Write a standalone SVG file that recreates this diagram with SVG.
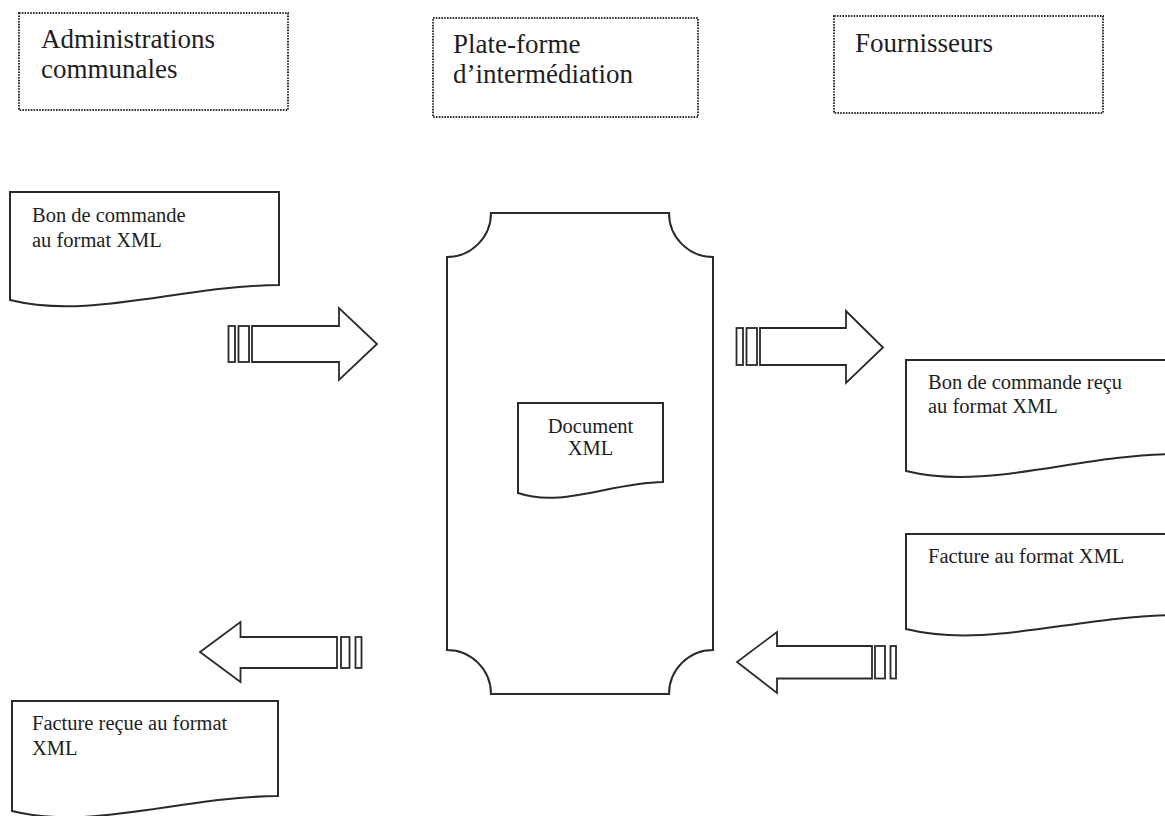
<svg xmlns="http://www.w3.org/2000/svg" width="1165" height="816" viewBox="0 0 1165 816">
<style>
.hdr{fill:none;stroke:#333;stroke-width:2;stroke-dasharray:1.6 1.2}
.shape{fill:#fff;stroke:#2a2a2a;stroke-width:2;stroke-linejoin:miter}
.ht{font-size:27px;fill:#1e1e1e}
.dt{font-size:20.5px;fill:#1e1e1e}
.arr{fill:#fff;stroke:#2a2a2a;stroke-width:1.8;stroke-linejoin:miter}
</style>
<rect width="1165" height="816" fill="#fff"/>
<g font-family="'Liberation Serif', Tinos, 'Times New Roman', 'DejaVu Serif', serif">
<g id="admin">
<rect class="hdr" x="19" y="13" width="269" height="97"/>
<text class="ht" x="41" y="48">Administrations</text>
<text class="ht" x="41" y="78">communales</text>
</g>
<g id="plateforme">
<rect class="hdr" x="433" y="18" width="265" height="99"/>
<text class="ht" x="453" y="53">Plate-forme</text>
<text class="ht" x="453" y="83">d’intermédiation</text>
</g>
<g id="fournisseurs">
<rect class="hdr" x="834" y="16" width="269" height="97"/>
<text class="ht" x="855" y="52">Fournisseurs</text>
</g>
<g id="platform-body">
<path class="shape" d="M491,213 H669 A44,44 0 0 0 713,257 V650 A44,44 0 0 0 669,694 H491 A44,44 0 0 0 447,650 V257 A44,44 0 0 0 491,213 Z"/>
</g>
<g id="doc-bon-commande">
<path class="shape" d="M10,192 H279 V285 C179.5,286 90.7,320 10,300 Z"/>
<text class="dt" x="32" y="222">Bon de commande</text>
<text class="dt" x="32" y="247">au format XML</text>
</g>
<g id="doc-xml">
<path class="shape" d="M518,403 H663 V482 C609,483 561.5,508 518,493 Z"/>
<text class="dt" x="590.5" y="433" text-anchor="middle">Document</text>
<text class="dt" x="590.5" y="455" text-anchor="middle">XML</text>
</g>
<g id="doc-bon-recu">
<path class="shape" d="M906,360 H1175 V454 C1075.5,455 986.7,491 906,471 Z"/>
<text class="dt" x="928" y="389">Bon de commande reçu</text>
<text class="dt" x="928" y="413">au format XML</text>
</g>
<g id="doc-facture">
<path class="shape" d="M906,534 H1175 V615 C1075.5,616 986.7,649 906,629 Z"/>
<text class="dt" x="928" y="563">Facture au format XML</text>
</g>
<g id="doc-facture-recue">
<path class="shape" d="M12,701 H278 V796 C179.6,797 92,831 12,811 Z"/>
<text class="dt" x="32" y="730">Facture reçue au format</text>
<text class="dt" x="32" y="755">XML</text>
</g>
</g>
<g id="connectors">
<g id="arrow-admin-platform">
<rect class="arr" x="228.5" y="326" width="6.5" height="36"/>
<rect class="arr" x="238.5" y="326" width="10.5" height="36"/>
<polygon class="arr" points="252,326 339,326 339,308 377,344 339,380 339,362 252,362"/>
</g>
<g id="arrow-platform-fournisseurs">
<rect class="arr" x="736.5" y="328" width="6.5" height="37"/>
<rect class="arr" x="746.5" y="328" width="10.5" height="37"/>
<polygon class="arr" points="760,328 846,328 846,311 883,347.5 846,383 846,365 760,365"/>
</g>
<g id="arrow-fournisseurs-platform">
<rect class="arr" x="890.5" y="646" width="5.5" height="32.5"/>
<rect class="arr" x="875" y="646" width="10" height="32.5"/>
<polygon class="arr" points="872,646 777,646 777,632 737,662 777,693 777,678.5 872,678.5"/>
</g>
<g id="arrow-platform-admin">
<rect class="arr" x="355.5" y="637" width="6" height="31"/>
<rect class="arr" x="341" y="637" width="8.5" height="31"/>
<polygon class="arr" points="337,637 240.5,637 240.5,622 200,652 240.5,682 240.5,668 337,668"/>
</g>
</g>
</svg>
